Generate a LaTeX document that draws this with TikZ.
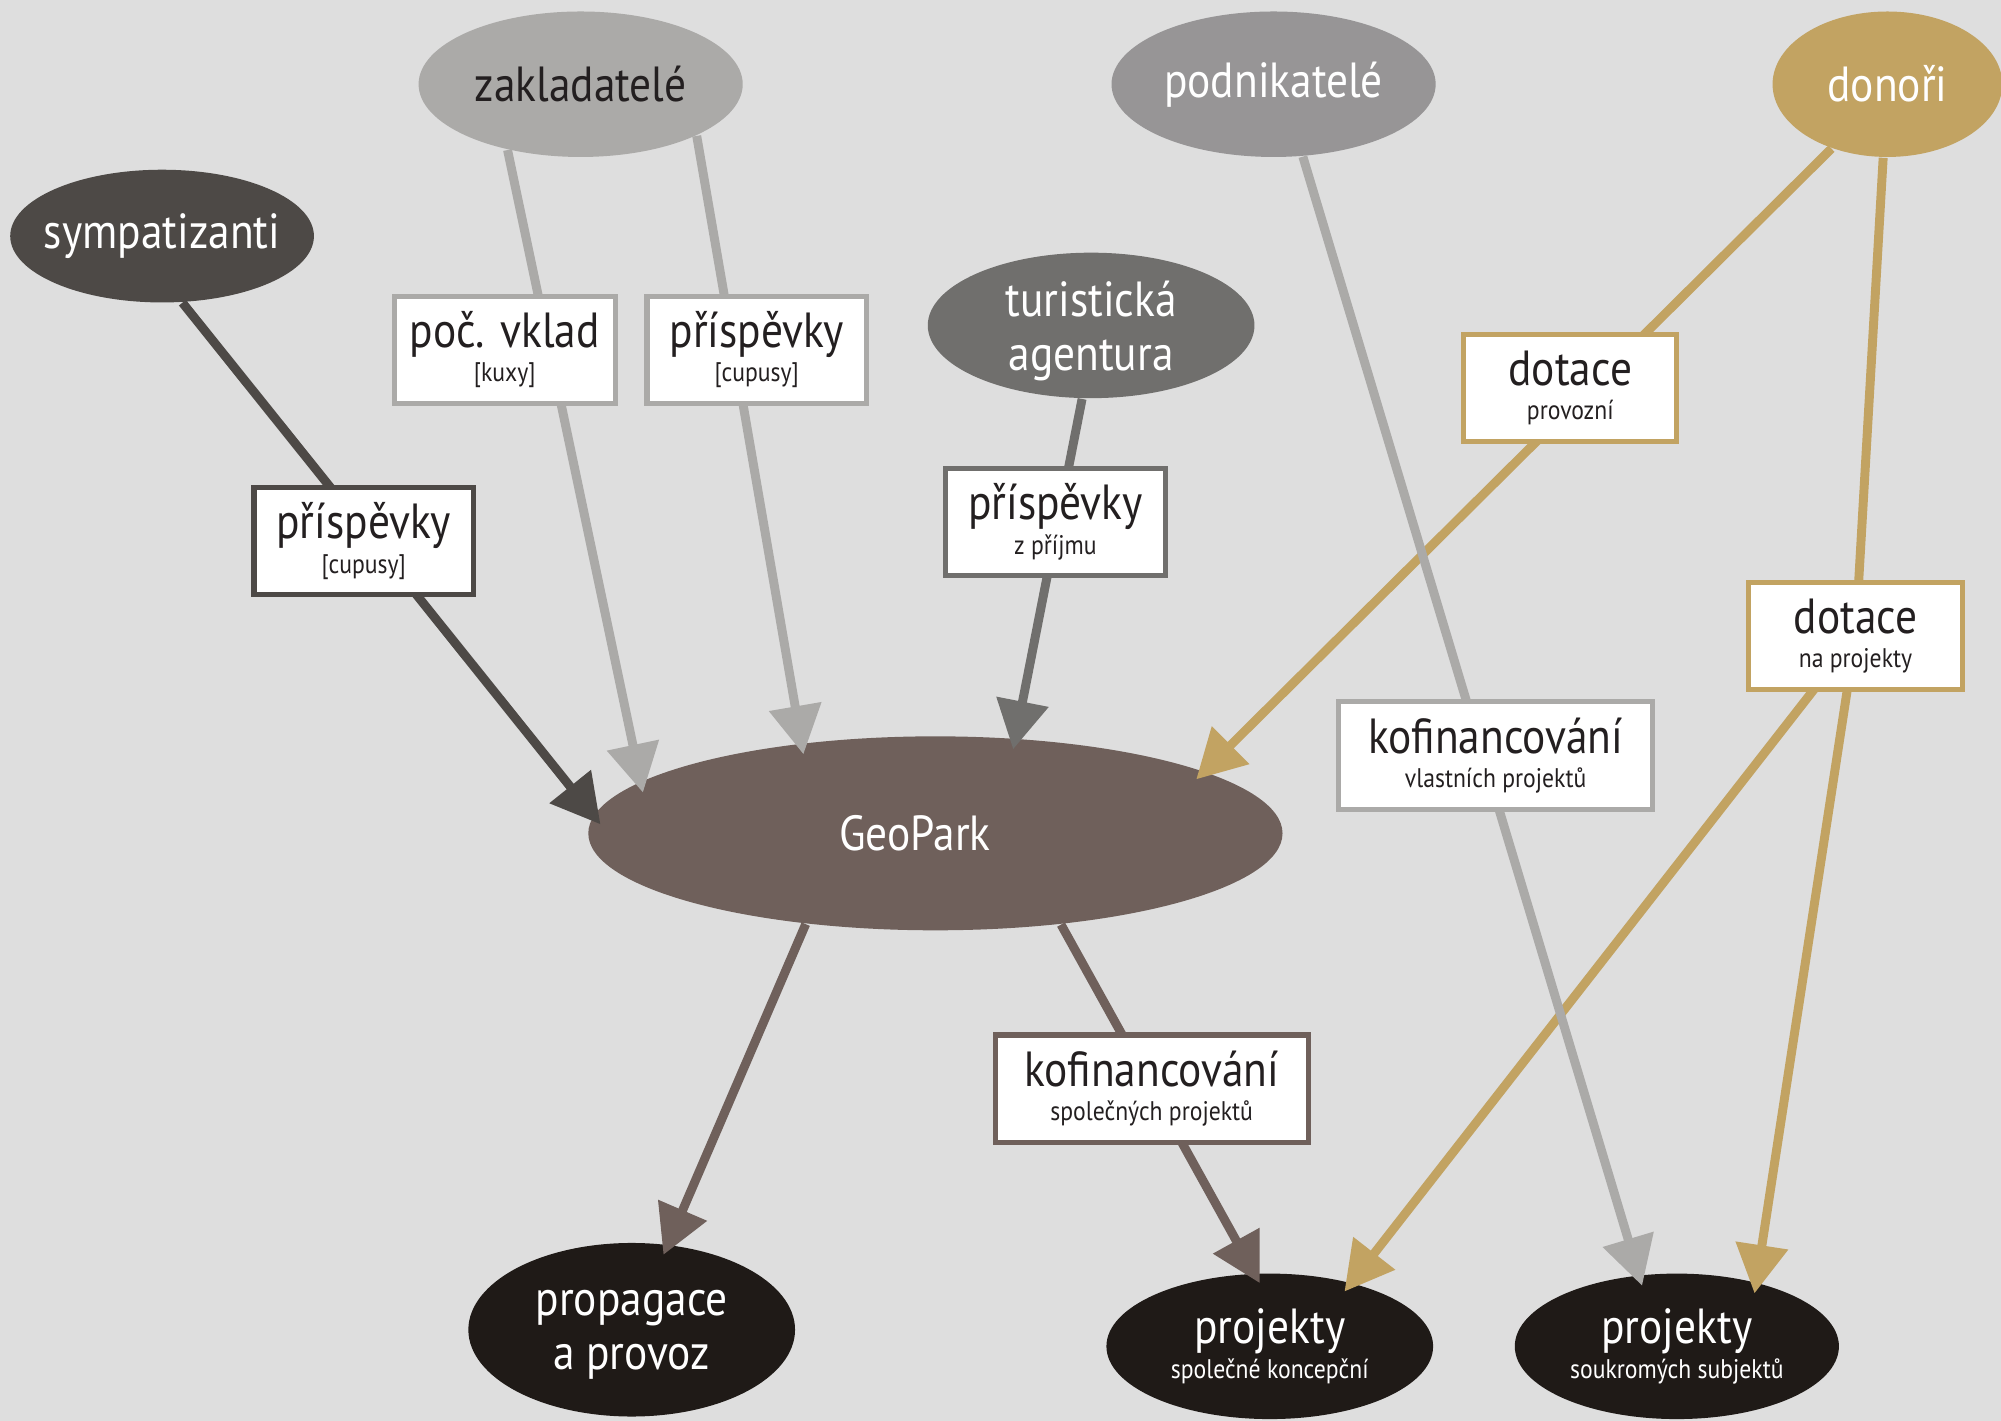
\documentclass[tikz,border=0pt]{standalone}
\usepackage{fontspec}
\setmainfont{PT Sans}[FakeStretch=0.88]
\usepackage{xcolor}
\usetikzlibrary{arrows.meta, shapes.geometric}
\definecolor{bgc}{HTML}{DEDEDE}
\definecolor{zakc}{HTML}{ABAAA8}
\definecolor{podc}{HTML}{979596}
\definecolor{donc}{HTML}{C2A362}
\definecolor{sympc}{HTML}{4D4946}
\definecolor{turc}{HTML}{706F6D}
\definecolor{geoc}{HTML}{6F605B}
\definecolor{darkc}{HTML}{1F1A17}
\definecolor{textc}{HTML}{231F20}
\newcommand{\lblfont}{\fontsize{11}{12}\selectfont}
\newcommand{\sublfont}{\fontsize{6}{7}\selectfont}
\pgfdeclarelayer{front}
\pgfsetlayers{main,front}

\begin{document}
\begin{tikzpicture}[x=0.1mm, y=-0.1mm,
    oval/.style={ellipse, inner sep=-3mm, align=center, font=\lblfont, text=white},
    money/.style={rectangle, draw, fill=white, line width=0.4mm, minimum width=17.2mm, minimum height=8.4mm, inner xsep=1.2mm, inner ysep=0pt, align=center, text=textc, font=\lblfont},
    flow/.style={line width=0.7mm},
    arrow/.style={flow, -{Triangle[length=3.8mm, width=4mm]}, shorten >=-0.9mm}
]

\useasboundingbox (0,0) rectangle (1568,1113.5);
\fill[bgc] (0,0) rectangle (1568,1113.5);

% zdroje
\node[oval, fill=zakc, text=textc, minimum width=25.4mm, minimum height=11.4mm] (zakl) at (455,66) {zakladatelé};
\node[oval, fill=podc, minimum width=25.4mm, minimum height=11.4mm] (podn) at (998,66) {podnikatelé};
\node[oval, fill=donc, minimum width=18mm, minimum height=11.4mm] (donori) at (1479,66) {donoři};
\node[oval, fill=sympc, minimum width=23.8mm, minimum height=10.4mm] (symp) at (127,185) {sympatizanti};
\node[oval, fill=turc, minimum width=25.6mm, minimum height=11.4mm, text depth=-0.8pt] (tur) at (855,255) {turistická\\agentura};

\node[oval, fill=geoc, minimum width=54.4mm, minimum height=15.2mm] (geopark) at (733,653) {\hspace*{-3.2mm}GeoPark};

% cile
\node[oval, fill=darkc, minimum width=25.6mm, minimum height=13.6mm, text depth=-5.4pt] (propag) at (495,1042) {propagace\\a provoz};
\node[oval, fill=darkc, minimum width=25.6mm, minimum height=11.4mm] (projspol) at (995,1055) {projekty\\[-4.3pt]{\sublfont společné koncepční}};
\node[oval, fill=darkc, minimum width=25.4mm, minimum height=11.4mm] (projsouk) at (1314,1055) {projekty\\[-4.3pt]{\sublfont soukromých subjektů}};

% popisky toku
\begin{pgfonlayer}{front}
\node[money, draw=zakc] (vklad) at (395.5,274) {poč. vklad\\[-4.3pt]{\sublfont [kuxy]}};
\node[money, draw=zakc] (prispzak) at (593,274) {příspěvky\\[-4.3pt]{\sublfont [cupusy]}};
\node[money, draw=sympc] (prispsym) at (285,424) {příspěvky\\[-4.3pt]{\sublfont [cupusy]}};
\node[money, draw=turc] (prisptur) at (827,409) {příspěvky\\[-4.3pt]{\sublfont z příjmu}};
\node[money, draw=donc, minimum width=16.7mm] (dotprov) at (1230.5,304) {dotace\\[-4.3pt]{\sublfont provozní}};
\node[money, draw=donc, minimum width=16.8mm] (dotproj) at (1454,498.5) {dotace\\[-4.3pt]{\sublfont na projekty}};
\node[money, draw=zakc, minimum width=24.6mm] (kofvl) at (1172,592) {kofinancování\\[-4.3pt]{\sublfont vlastních projektů}};
\node[money, draw=geoc, minimum width=24.5mm] (kofsp) at (902.5,853) {kofinancování\\[-4.3pt]{\sublfont společných projektů}};
\end{pgfonlayer}

\draw[arrow, sympc] (symp.-73) -- (geopark.177);
\draw[arrow, zakc] (zakl.-138) -- (geopark.170);
\draw[arrow, zakc] (zakl.-24) -- (geopark.146);
\draw[arrow, turc] (tur.-97) -- (geopark.50);
\draw[arrow, donc] (donori.-131) -- (geopark.13);
\draw[flow, donc] (donori) -- (dotproj.center);
\draw[arrow, donc] (dotproj.center) -- (projsouk.39);
\draw[arrow, donc] (dotproj.center) -- (projspol.38);
\draw[arrow, zakc] (podn.-68) -- (projsouk.118);
\draw[arrow, geoc] (geopark.-145) -- (propag.67);
\draw[arrow, geoc] (geopark.-36) -- (projspol.102);

\end{tikzpicture}
\end{document}
